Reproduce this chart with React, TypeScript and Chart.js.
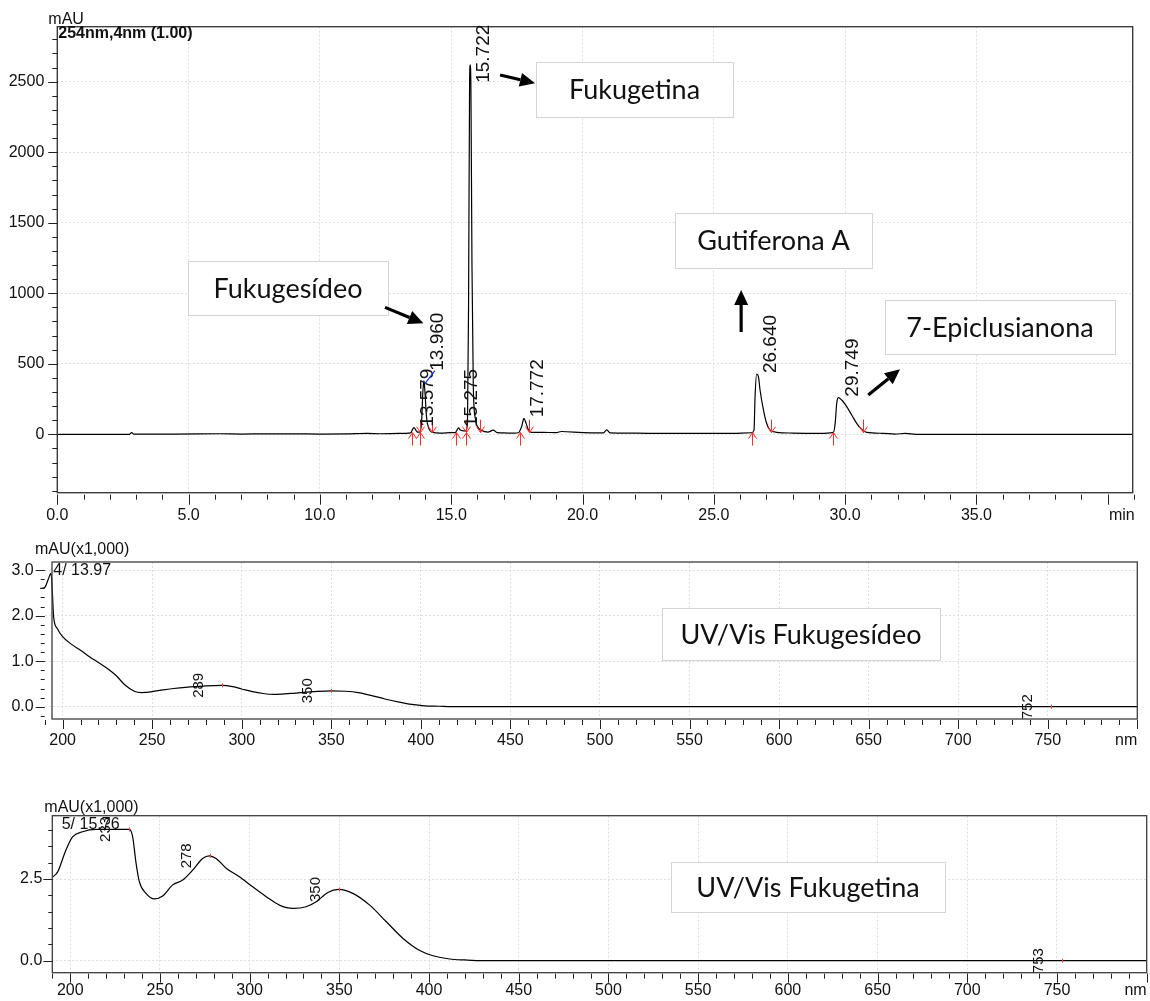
import React, { useEffect, useRef } from 'react';
import { Chart, registerables } from 'chart.js';

Chart.register(...registerables);

const FONT = '"Liberation Sans", Arial, Helvetica, sans-serif';
const BOX_FONT = 'Lato, "Noto Sans", sans-serif';

// ================= Chromatogram 254 nm =================
const chromPoints: [number, number][] = [
  [0, 0], [2.75, 0], [2.83, 12], [2.92, 1], [3.2, 2], [4.5, 2], [6.2, 4], [7.0, 2], [8.0, 3],
  [9.0, 3], [10.0, 2], [11.0, 3], [11.8, 6], [12.3, 4], [13.0, 6], [13.45, 10], [13.53, 35],
  [13.58, 47], [13.65, 30], [13.72, 15], [13.8, 15], [13.87, 80], [13.92, 300], [13.96, 380],
  [14.0, 300], [14.06, 120], [14.15, 40], [14.26, 15], [14.6, 8], [15.0, 12], [15.15, 12],
  [15.22, 30], [15.275, 45], [15.35, 30], [15.45, 25], [15.55, 25], [15.62, 80], [15.66, 900],
  [15.7, 2500], [15.722, 2620], [15.75, 2450], [15.79, 1200], [15.84, 350], [15.92, 110],
  [16.0, 55], [16.15, 28], [16.4, 15], [16.6, 30], [16.75, 12], [17.0, 10], [17.4, 8],
  [17.56, 11], [17.68, 54], [17.77, 113], [17.85, 78], [17.94, 30], [18.06, 14], [18.5, 14],
  [19.0, 12], [19.2, 20], [20.0, 12], [20.8, 10], [20.92, 32], [21.05, 10], [21.5, 9],
  [22.5, 7], [24.0, 6], [25.5, 6], [26.44, 11], [26.53, 30], [26.57, 267], [26.63, 427],
  [26.7, 408], [26.76, 314], [26.89, 172], [27.01, 78], [27.14, 30], [27.4, 14], [28.0, 9],
  [29.0, 7], [29.55, 14], [29.62, 78], [29.68, 220], [29.74, 260], [29.87, 243], [30.06, 196],
  [30.25, 137], [30.44, 78], [30.63, 35], [30.82, 14], [31.46, 7], [31.9, 2], [32.3, 6],
  [32.7, 0], [41, 0],
];
const chromPeakTimes = [13.579, 13.96, 15.275, 15.722, 17.772, 26.64, 29.749];
const chromPeakLabels = ['13.579', '13.960', '15.275', '15.722', '17.772', '26.640', '29.749'];
const chromPeakHeights = [47, 380, 45, 2620, 113, 427, 260];
const chromLeaderPeaks = ['13.960'];
const chromPeakStarts = [13.5, 13.81, 15.18, 15.55, 17.62, 26.47, 29.53];
const chromPeakEnds = [13.81, 14.26, 15.55, 16.1, 17.97, 27.17, 30.67];
const chromXTickValues = [0, 5, 10, 15, 20, 25, 30, 35];
const chromXTickLabels = ['0.0', '5.0', '10.0', '15.0', '20.0', '25.0', '30.0', '35.0'];
const chromXMajorMarks = [0, 5, 10, 15, 20, 25, 30, 35, 40];
const chromYTickValues = [0, 500, 1000, 1500, 2000, 2500];
const chromYTickLabels = ['0', '500', '1000', '1500', '2000', '2500'];

// ================= UV/Vis Fukugesídeo =================
const uv1Points: [number, number][] = [
  [187.5, 2.6], [190, 2.62], [192, 2.8], [193.5, 2.93], [194.3, 2.5], [195, 1.97], [197, 1.72],
  [200, 1.54], [205, 1.37], [210, 1.24], [215, 1.1], [220, 0.97], [225, 0.84], [230, 0.68],
  [235, 0.47], [240, 0.34], [244, 0.31], [250, 0.33], [256, 0.37], [262, 0.4], [270, 0.43],
  [280, 0.46], [289, 0.47], [295, 0.44], [300, 0.39], [306, 0.33], [312, 0.29], [318, 0.27],
  [324, 0.28], [330, 0.3], [340, 0.33], [350, 0.35], [358, 0.34], [365, 0.31], [372, 0.25],
  [380, 0.17], [388, 0.1], [395, 0.05], [402, 0.02], [410, 0.01], [420, 0], [800, 0],
];
const uv1PeakNm = [289, 350, 752];
const uv1PeakLabels = ['289', '350', '752'];
const uv1PeakVals = [0.47, 0.35, 0];
const uv1XTickValues = [200, 250, 300, 350, 400, 450, 500, 550, 600, 650, 700, 750];
const uv1XTickLabels = ['200', '250', '300', '350', '400', '450', '500', '550', '600', '650', '700', '750'];
const uv1YTickValues = [0, 1, 2, 3];
const uv1YTickLabels = ['0.0', '1.0', '2.0', '3.0'];

// ================= UV/Vis Fukugetina =================
const uv2Points: [number, number][] = [
  [190, 2.55], [193, 2.72], [197.6, 3.39], [201.3, 3.79], [206.9, 3.95], [214.3, 4.02], [233, 4.02],
  [234.8, 3.79], [236.7, 2.98], [238.5, 2.42], [242.2, 2.06], [246.9, 1.89], [251.5, 1.98],
  [257.1, 2.32], [262.7, 2.47], [268.2, 2.77], [273.8, 3.13], [277.5, 3.21], [281.3, 3.13],
  [286.9, 2.83], [294.3, 2.57], [301.7, 2.26], [309.2, 1.96], [316.6, 1.7], [324.1, 1.6],
  [331.5, 1.65], [337.1, 1.8], [343.6, 2.09], [349.7, 2.18], [357.5, 2.06], [366.9, 1.7],
  [376.2, 1.19], [385.5, 0.68], [394.8, 0.31], [402.2, 0.15], [411.5, 0.05], [420, 0.02],
  [430, 0], [800, 0],
];
const uv2PeakNm = [233, 278, 350, 753];
const uv2PeakLabels = ['233', '278', '350', '753'];
const uv2PeakVals = [4.02, 3.21, 2.18, 0];
const uv2XTickValues = [200, 250, 300, 350, 400, 450, 500, 550, 600, 650, 700, 750];
const uv2XTickLabels = ['200', '250', '300', '350', '400', '450', '500', '550', '600', '650', '700', '750'];
const uv2YTickValues = [0, 2.5];
const uv2YTickLabels = ['0.0', '2.5'];

// ================= Annotations (data units) =================
type Box = { x1: number; x2: number; y1: number; y2: number; text: string };
type Arrow = { x1: number; y1: number; x2: number; y2: number };
const chromBoxes: Box[] = [
  { x1: 18.22, x2: 25.73, y1: 2247, y2: 2638, text: 'Fukugetina' },
  { x1: 4.99, x2: 12.6, y1: 846, y2: 1231, text: 'Fukugesídeo' },
  { x1: 23.52, x2: 31.02, y1: 1179, y2: 1569, text: 'Gutiferona A' },
  { x1: 31.52, x2: 40.28, y1: 570, y2: 952, text: '7-Epiclusianona' },
];
const chromArrows: Arrow[] = [
  { x1: 16.86, y1: 2548, x2: 18.19, y2: 2489 },
  { x1: 12.48, y1: 900, x2: 13.94, y2: 787 },
  { x1: 26.04, y1: 725, x2: 26.04, y2: 1023 },
  { x1: 30.88, y1: 279, x2: 32.09, y2: 461 },
];
const uv1Box: Box = { x1: 534.7, x2: 689.9, y1: 1.024, y2: 2.164, text: 'UV/Vis Fukugesídeo' };
const uv2Box: Box = { x1: 534.9, x2: 687.6, y1: 1.489, y2: 3.018, text: 'UV/Vis Fukugetina' };

// ================= helpers =================
function seg(ctx: CanvasRenderingContext2D, x1: number, y1: number, x2: number, y2: number) {
  ctx.beginPath();
  ctx.moveTo(x1, y1);
  ctx.lineTo(x2, y2);
  ctx.stroke();
}

function range(a: number, b: number, step: number) {
  const out: number[] = [];
  for (let v = a; v <= b + 1e-9; v += step) out.push(Math.round(v * 1000) / 1000);
  return out;
}

function ticksX(ctx: CanvasRenderingContext2D, s: any, vals: number[], y0: number, len: number) {
  vals.forEach((v) => {
    const px = Math.round(s.getPixelForValue(v)) + 0.5;
    seg(ctx, px, y0, px, y0 + len);
  });
}
function ticksY(ctx: CanvasRenderingContext2D, s: any, vals: number[], x0: number, len: number) {
  vals.forEach((v) => {
    const py = Math.round(s.getPixelForValue(v)) + 0.5;
    seg(ctx, x0, py, x0 - len, py);
  });
}

function rotLabel(ctx: CanvasRenderingContext2D, text: string, x: number, yBottom: number) {
  ctx.save();
  ctx.translate(x, yBottom);
  ctx.rotate(-Math.PI / 2);
  ctx.textAlign = 'left';
  ctx.textBaseline = 'alphabetic';
  ctx.fillText(text, 0, 0);
  ctx.restore();
}

function drawArrow(ctx: CanvasRenderingContext2D, x1: number, y1: number, x2: number, y2: number) {
  const ang = Math.atan2(y2 - y1, x2 - x1);
  const head = 15;
  const half = 7;
  const bx = x2 - head * Math.cos(ang);
  const by = y2 - head * Math.sin(ang);
  ctx.strokeStyle = '#000';
  ctx.lineWidth = 3.2;
  seg(ctx, x1, y1, bx, by);
  ctx.fillStyle = '#000';
  ctx.beginPath();
  ctx.moveTo(x2, y2);
  ctx.lineTo(bx + half * Math.sin(ang), by - half * Math.cos(ang));
  ctx.lineTo(bx - half * Math.sin(ang), by + half * Math.cos(ang));
  ctx.closePath();
  ctx.fill();
}

function drawBox(ctx: CanvasRenderingContext2D, xs: any, ys: any, b: Box, size: number) {
  const l = Math.round(xs.getPixelForValue(b.x1));
  const r = Math.round(xs.getPixelForValue(b.x2));
  const t = Math.round(ys.getPixelForValue(b.y2));
  const bo = Math.round(ys.getPixelForValue(b.y1));
  ctx.fillStyle = '#fff';
  ctx.fillRect(l, t, r - l, bo - t);
  ctx.strokeStyle = '#d4d4d4';
  ctx.lineWidth = 1;
  ctx.strokeRect(l + 0.5, t + 0.5, r - l, bo - t);
  ctx.fillStyle = '#111';
  ctx.font = `${size}px ${BOX_FONT}`;
  ctx.textAlign = 'center';
  ctx.textBaseline = 'alphabetic';
  ctx.fillText(b.text, (l + r) / 2, (t + bo) / 2 + size * 0.36);
}

function axisX(min: number, max: number, vals: number[], labels: string[], padding: number, height: number) {
  return {
    type: 'linear',
    min,
    max,
    afterBuildTicks: (s: any) => {
      s.ticks = vals.map((v) => ({ value: v }));
    },
    afterFit: (s: any) => {
      s.height = height;
    },
    ticks: {
      autoSkip: false,
      maxRotation: 0,
      minRotation: 0,
      padding,
      color: '#111',
      font: { family: FONT, size: 16 },
      callback: (v: number) => {
        const i = vals.indexOf(v);
        return i >= 0 ? labels[i] : '';
      },
    },
    grid: { color: '#dedede', lineWidth: 1, drawTicks: false },
    border: { display: false, dash: [2, 2] },
  };
}

function axisY(min: number, max: number, vals: number[], labels: string[], padding: number, width: number) {
  return {
    type: 'linear',
    min,
    max,
    afterBuildTicks: (s: any) => {
      s.ticks = vals.map((v) => ({ value: v }));
    },
    afterFit: (s: any) => {
      s.width = width;
    },
    ticks: {
      autoSkip: false,
      padding,
      color: '#111',
      font: { family: FONT, size: 16 },
      callback: (v: number) => {
        const i = vals.indexOf(v);
        return i >= 0 ? labels[i] : '';
      },
    },
    grid: { color: '#dedede', lineWidth: 1, drawTicks: false },
    border: { display: false, dash: [2, 2] },
  };
}

function baseOptions(padding: any, scales: any) {
  return {
    responsive: false,
    animation: false,
    devicePixelRatio: 1,
    events: [],
    layout: { padding },
    plugins: { legend: { display: false }, tooltip: { enabled: false } },
    scales,
  };
}

function lineDataset(points: [number, number][], clip: boolean) {
  return {
    data: points.map(([x, y]) => ({ x, y })),
    borderColor: '#000',
    borderWidth: 1.2,
    pointRadius: 0,
    fill: false,
    cubicInterpolationMode: 'monotone',
    clip: clip ? 0 : false,
  };
}

// ================= chart configs =================
function chromConfig(): any {
  const plugin = {
    id: 'chromDecor',
    afterDraw(chart: any) {
      const { ctx, chartArea: a } = chart;
      const xs = chart.scales.x;
      const ys = chart.scales.y;
      ctx.save();
      // frame
      ctx.strokeStyle = '#3c3c3c';
      ctx.lineWidth = 1.4;
      ctx.strokeRect(a.left, a.top, a.right - a.left, a.bottom - a.top);
      // ticks
      ctx.strokeStyle = '#222';
      ctx.lineWidth = 1;
      ticksX(ctx, xs, range(0, 41, 1), a.bottom + 2, 5);
      ticksX(ctx, xs, chromXMajorMarks, a.bottom + 2, 10);
      ticksY(ctx, ys, range(-400, 2800, 100), a.left, 5);
      ticksY(ctx, ys, chromYTickValues, a.left, 9);
      // texts
      ctx.fillStyle = '#111';
      ctx.font = `16px ${FONT}`;
      ctx.textAlign = 'left';
      ctx.textBaseline = 'alphabetic';
      ctx.fillText('mAU', a.left - 9, a.top - 3);
      ctx.font = `bold 16px ${FONT}`;
      ctx.fillText('254nm,4nm (1.00)', a.left + 1, a.top + 11.5);
      ctx.font = `16px ${FONT}`;
      ctx.textAlign = 'right';
      ctx.textBaseline = 'middle';
      ctx.fillText('min', a.right + 2, a.bottom + 23);
      // integration markers
      ctx.strokeStyle = '#ff2a2a';
      ctx.lineWidth = 1;
      const yb = ys.getPixelForValue(12);
      chromPeakStarts.forEach((t) => {
        const px = Math.round(xs.getPixelForValue(t)) + 0.5;
        seg(ctx, px, yb, px, yb + 13);
        ctx.beginPath();
        ctx.moveTo(px - 4, yb + 6);
        ctx.lineTo(px, yb);
        ctx.lineTo(px + 4, yb + 6);
        ctx.stroke();
      });
      chromPeakEnds.forEach((t) => {
        const px = Math.round(xs.getPixelForValue(t)) + 0.5;
        seg(ctx, px, yb - 13, px, yb);
        ctx.beginPath();
        ctx.moveTo(px - 4, yb - 6);
        ctx.lineTo(px, yb);
        ctx.lineTo(px + 4, yb - 6);
        ctx.stroke();
      });
      // peak labels
      ctx.font = `19px ${FONT}`;
      chromPeakTimes.forEach((t, i) => {
        const text = chromPeakLabels[i];
        const w = ctx.measureText(text).width;
        const x0 = xs.getPixelForValue(t);
        let py = ys.getPixelForValue(chromPeakHeights[i]) - 1;
        if (chromLeaderPeaks.includes(text)) {
          ctx.strokeStyle = '#1a2cff';
          ctx.lineWidth = 1.2;
          seg(ctx, x0 + 1, py + 4, x0 + 11, py - 9);
          py -= 9;
        }
        if (py - w < a.top - 2) py = a.top - 2 + w;
        ctx.fillStyle = '#111';
        rotLabel(ctx, text, x0 + 19, py);
      });
      // annotation boxes and arrows
      chromBoxes.forEach((b) => drawBox(ctx, xs, ys, b, 27));
      chromArrows.forEach((ar) =>
        drawArrow(ctx, xs.getPixelForValue(ar.x1), ys.getPixelForValue(ar.y1), xs.getPixelForValue(ar.x2), ys.getPixelForValue(ar.y2))
      );
      ctx.restore();
    },
  };
  return {
    type: 'line',
    data: { datasets: [lineDataset(chromPoints, true)] },
    options: baseOptions(
      { top: 26.7, right: 17.3, left: 0, bottom: 0 },
      {
        x: axisX(0, 40.95, chromXTickValues, chromXTickLabels, 13, 37.3),
        y: axisY(-414, 2890, chromYTickValues, chromYTickLabels, 13, 57.3),
      }
    ),
    plugins: [plugin],
  };
}

function spectrumConfig(
  points: [number, number][],
  peakNm: number[],
  peakLabels: string[],
  peakVals: number[],
  xVals: number[],
  xLabels: string[],
  yVals: number[],
  yLabels: string[],
  yMin: number,
  yMax: number,
  yMinorStep: number,
  yMinorMax: number,
  box: Box,
  header: string,
  frameInset: number,
  dims: { top: number; right: number; xh: number; yw: number; xpad: number; ypad: number; unitDy: number; hdrDy: number; hdrDx: number; subDy: number; subDx: number },
  clip: boolean
): any {
  const plugin = {
    id: 'specDecor',
    afterDraw(chart: any) {
      const { ctx, chartArea: a } = chart;
      const xs = chart.scales.x;
      const ys = chart.scales.y;
      ctx.save();
      const fl = a.left + frameInset;
      ctx.strokeStyle = '#3c3c3c';
      ctx.lineWidth = 1.3;
      ctx.strokeRect(fl, a.top, a.right - fl, a.bottom - a.top);
      ctx.strokeStyle = '#222';
      ctx.lineWidth = 1;
      ticksX(ctx, xs, range(190, 800, 10), a.bottom + 1, 5);
      ticksX(ctx, xs, range(200, 800, 50), a.bottom + 1, 9);
      ticksY(ctx, ys, range(yMinorStep <= 0.2 ? -0.2 : 0, yMinorMax, yMinorStep), a.left, 4);
      ticksY(ctx, ys, yVals, a.left, 9);
      // header texts
      ctx.fillStyle = '#111';
      ctx.font = `16px ${FONT}`;
      ctx.textAlign = 'left';
      ctx.textBaseline = 'alphabetic';
      ctx.fillText('mAU(x1,000)', a.left + dims.hdrDx, a.top + dims.hdrDy);
      ctx.fillText(header, a.left + dims.subDx, a.top + dims.subDy);
      ctx.font = `16px ${FONT}`;
      ctx.textAlign = 'right';
      ctx.textBaseline = 'middle';
      ctx.fillText('nm', a.right, a.bottom + dims.unitDy);
      // peak marks and labels
      ctx.font = `15px ${FONT}`;
      peakNm.forEach((nm, i) => {
        const px = xs.getPixelForValue(nm);
        const py = ys.getPixelForValue(peakVals[i]);
        ctx.strokeStyle = '#ff3b3b';
        seg(ctx, Math.round(px) + 0.5, py - 2, Math.round(px) + 0.5, py + 2);
        const w = ctx.measureText(peakLabels[i]).width;
        ctx.fillStyle = '#111';
        rotLabel(ctx, peakLabels[i], px - 19, py + w / 2);
      });
      drawBox(ctx, xs, ys, box, 27);
      ctx.restore();
    },
  };
  return {
    type: 'line',
    data: { datasets: [lineDataset(points, clip)] },
    options: baseOptions(
      { top: dims.top, right: dims.right, left: 0, bottom: 0 },
      {
        x: axisX(190, 800, xVals, xLabels, dims.xpad, dims.xh),
        y: axisY(yMin, yMax, yVals, yLabels, dims.ypad, dims.yw),
      }
    ),
    plugins: [plugin],
  };
}

export default function App() {
  const c1 = useRef<HTMLCanvasElement>(null);
  const c2 = useRef<HTMLCanvasElement>(null);
  const c3 = useRef<HTMLCanvasElement>(null);

  useEffect(() => {
    const charts: Chart[] = [];
    charts.push(new Chart(c1.current as HTMLCanvasElement, chromConfig()));
    charts.push(
      new Chart(
        c2.current as HTMLCanvasElement,
        spectrumConfig(
          uv1Points, uv1PeakNm, uv1PeakLabels, uv1PeakVals,
          uv1XTickValues, uv1XTickLabels, uv1YTickValues, uv1YTickLabels,
          -0.27, 3.18, 0.2, 3.0, uv1Box, '4/ 13.97', 7.3,
          { top: 32, right: 12.7, xh: 41, yw: 44.7, xpad: 12, ypad: 11, unitDy: 22, hdrDx: -9.7, hdrDy: -8.5, subDx: 8.6, subDy: 13 },
          false
        )
      )
    );
    charts.push(
      new Chart(
        c3.current as HTMLCanvasElement,
        spectrumConfig(
          uv2Points, uv2PeakNm, uv2PeakLabels, uv2PeakVals,
          uv2XTickValues, uv2XTickLabels, uv2YTickValues, uv2YTickLabels,
          -0.37, 4.44, 0.5, 4.0, uv2Box, '5/ 15.76', 0,
          { top: 55.7, right: 3.3, xh: 28.3, yw: 52.3, xpad: 8, ypad: 10, unitDy: 17.5, hdrDx: -8, hdrDy: -3.7, subDx: 9.4, subDy: 13.3 },
          true
        )
      )
    );
    return () => charts.forEach((c) => c.destroy());
  }, []);

  return (
    <div style={{ position: 'absolute', left: 0, top: 0, width: 1150, height: 1001, background: '#fff', overflow: 'hidden' }}>
      <canvas ref={c1} width={1150} height={530} style={{ position: 'absolute', left: 0, top: 0 }} />
      <canvas ref={c2} width={1150} height={230} style={{ position: 'absolute', left: 0, top: 530 }} />
      <canvas ref={c3} width={1150} height={241} style={{ position: 'absolute', left: 0, top: 760 }} />
    </div>
  );
}
